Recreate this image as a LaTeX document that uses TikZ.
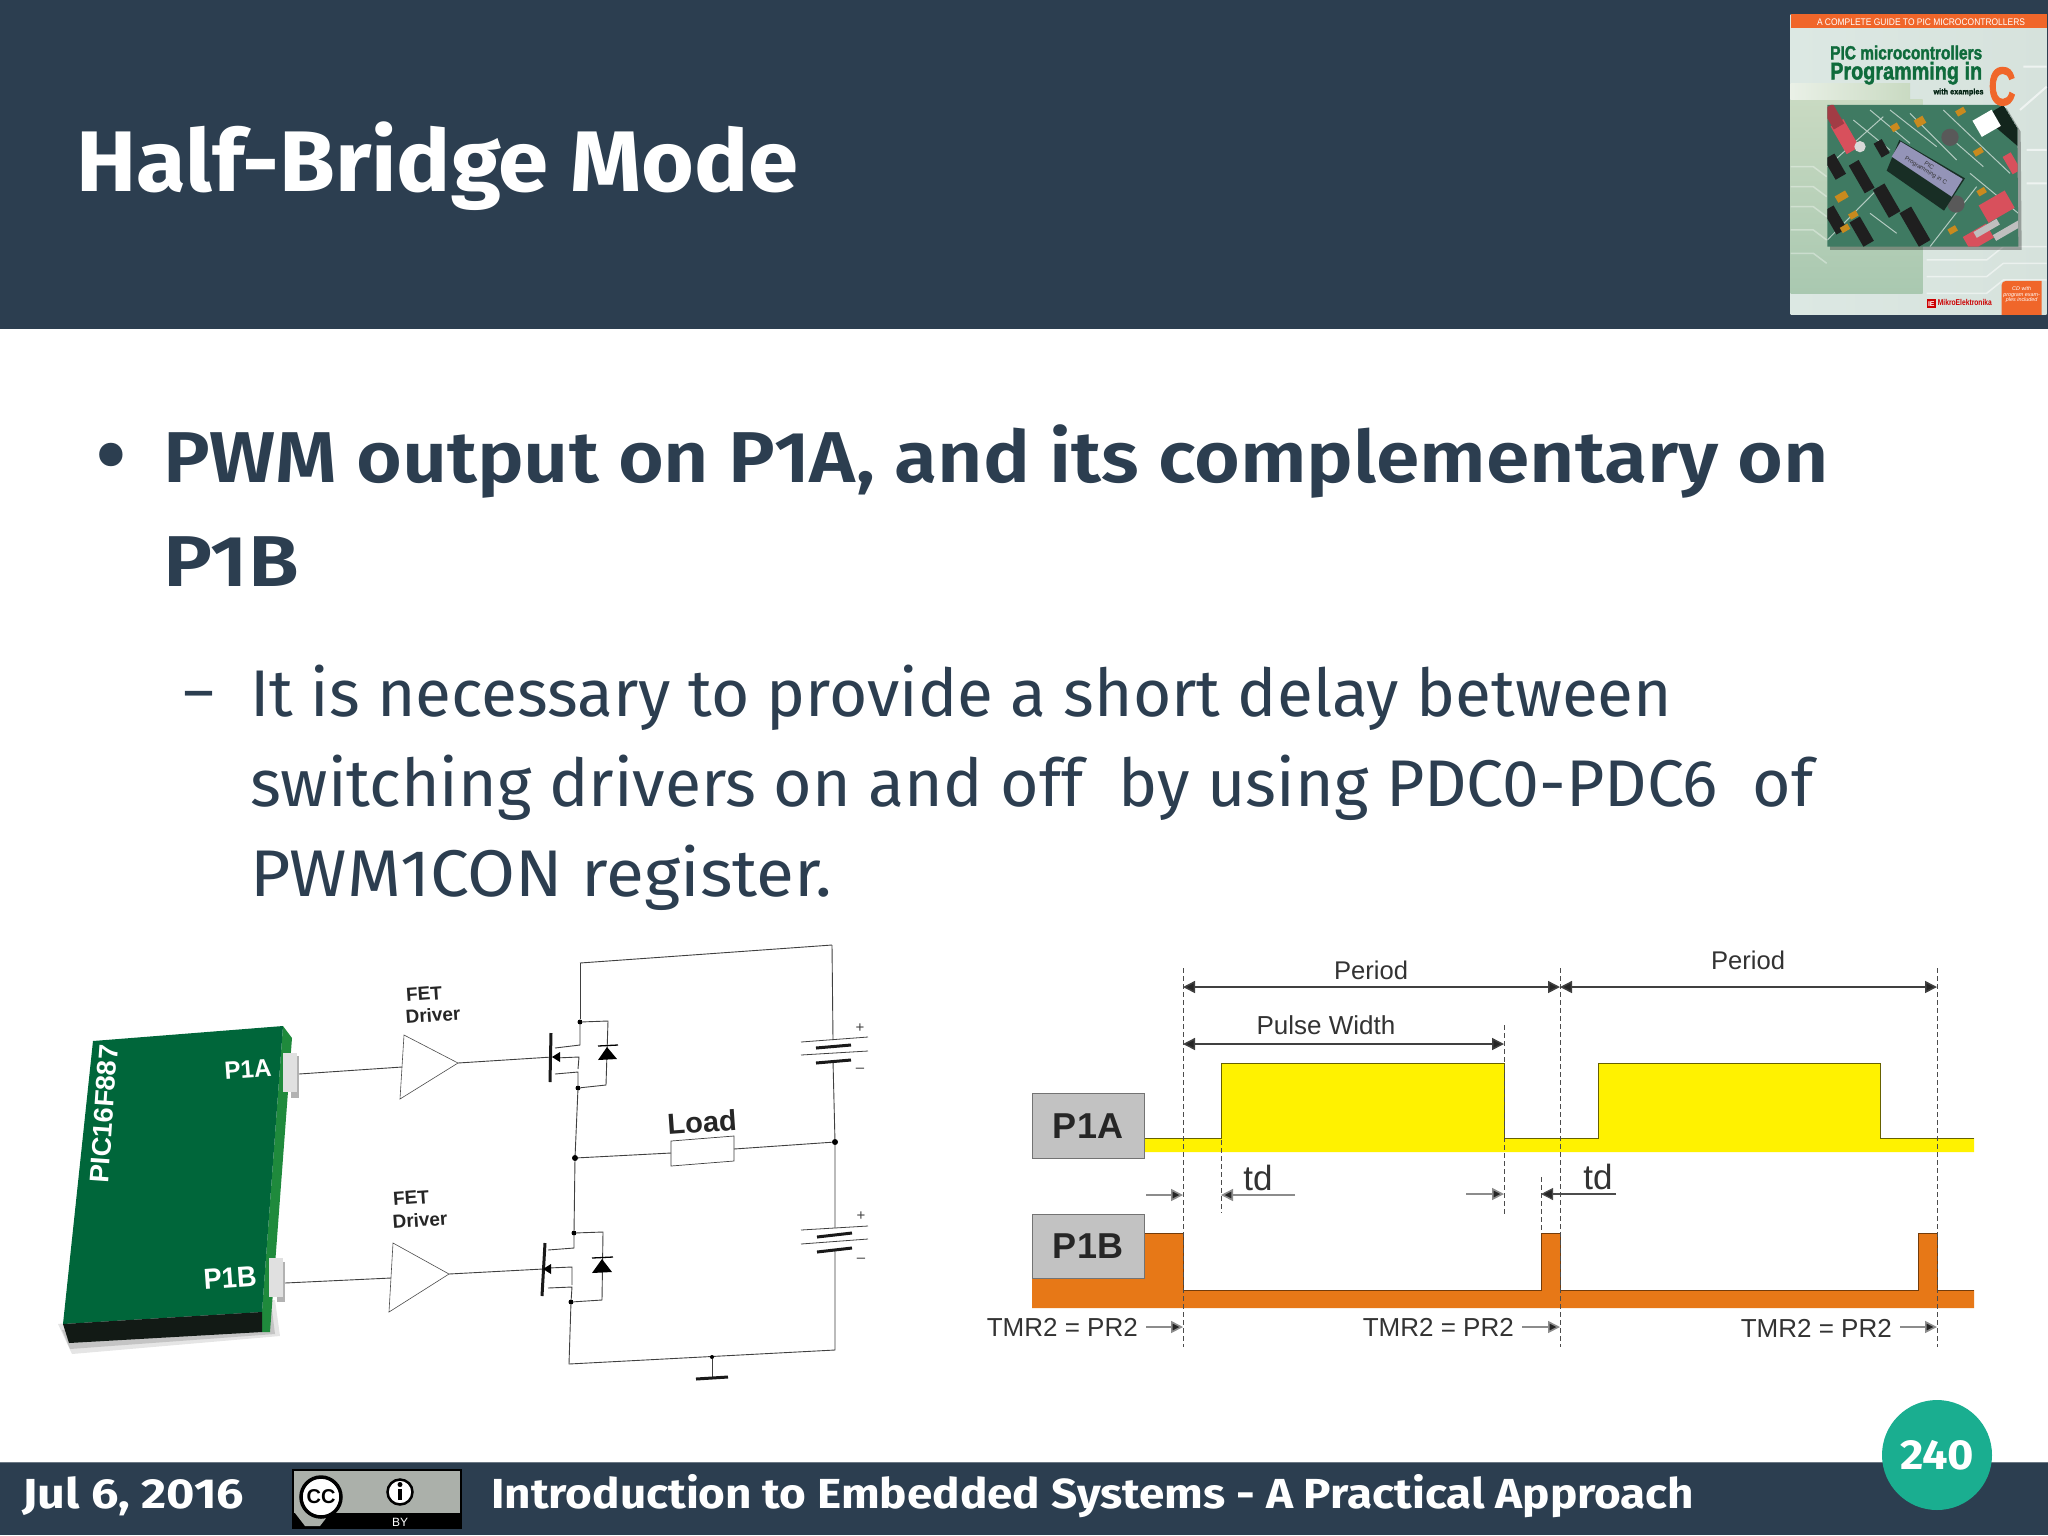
\documentclass[tikz,border=0pt]{standalone}
\usepackage{fontspec}
\usepackage{graphicx}
\usetikzlibrary{arrows.meta}
\setmainfont{Fira Sans}
\newfontfamily\semib{Fira Sans SemiBold}
\newfontfamily\arial{Liberation Sans}
\newfontfamily\heavy[FakeBold=2]{Liberation Sans Bold}
\definecolor{navy}{HTML}{2C3E50}
\definecolor{teal}{HTML}{1AAE90}
\definecolor{chipfront}{HTML}{00663A}
\definecolor{chipside}{HTML}{1F8A3C}
\definecolor{chipdark}{HTML}{121A15}
\definecolor{ylw}{HTML}{FFF200}
\definecolor{org}{HTML}{E77817}
\definecolor{boxgray}{HTML}{C2C2C2}
\definecolor{bookorg}{HTML}{F0662A}
\definecolor{bookgrn}{HTML}{0F6B3C}
\definecolor{pcb}{HTML}{3F7A62}
\definecolor{bkL}{HTML}{DCE8E3}
\definecolor{bkR}{HTML}{D6E2DC}
\definecolor{blkT}{HTML}{C9DAC2}
\definecolor{blkM}{HTML}{7FAE92}
\definecolor{blkB}{HTML}{A9C8B0}
\definecolor{sw}{HTML}{D8505C}
\definecolor{jmp}{HTML}{C98A1E}
\definecolor{ccgray}{HTML}{ABB0AA}
\newcommand{\fitw}[2]{\resizebox{#1pt}{\height}{#2}}
\newcommand{\fz}[1]{\fontsize{#1}{#1}\selectfont}
\newcommand{\pcbrect}[6]{\fill[#6,rotate around={#3:(#1,#2)}] ({#1-#4},{#2-#5}) rectangle ({#1+#4},{#2+#5});}
\tikzset{
  tx/.style={inner sep=0pt,anchor=base west},
  cx/.style={inner sep=0pt,anchor=center},
  ckt/.style={line width=0.9pt,draw=black!75},
  thick plate/.style={line width=3pt,draw=black!90},
  dim/.style={line width=1.5pt,draw=black!75,{Triangle[length=12pt,width=12pt,fill=black!85]}-{Triangle[length=12pt,width=12pt,fill=black!85]}},
  tick/.style={line width=1.6pt,draw=black!45,-{Triangle[length=12pt,width=12pt,fill=black!85]}},
  guide/.style={line width=0.7pt,draw=black!70,dash pattern=on 5pt off 3pt},
  dot/.style={circle,fill=black,inner sep=0pt,minimum size=6pt},
  smalldot/.style={circle,fill=black,inner sep=0pt,minimum size=5pt},
  amp/.style={line width=0.6pt,draw=black!70,fill=white},
  wavelbl/.style={inner sep=0pt,anchor=base east,font=\arial\fz{26},text=black!80},
  plbl/.style={cx,font=\arial\bfseries\fz{36},text=black!85},
  labelbox/.style={draw=black!55,line width=1pt,fill=boxgray}
}
\begin{document}
\begin{tikzpicture}[x=1pt,y=-1pt]
\useasboundingbox (0,0) rectangle (2048,1535);
\fill[white] (0,0) rectangle (2048,1535);
% header
\fill[navy] (0,0) rectangle (2048,329);
\node[tx,text=white,font=\bfseries\fz{86}] (title) at (76,191) {\fitw{722}{Half-Bridge Mode}};
% body
\node[tx,text=navy,font=\fz{104}] (bul) at (94,490) {•};
\node[tx,text=navy,font=\semib\fz{72}] (l1) at (163,482) {\fitw{1666}{PWM output on P1A, and its complementary on}};
\node[tx,text=navy,font=\semib\fz{72}] (l2) at (163,586) {\fitw{136}{P1B}};
\node[tx,text=navy,font=\fz{60}] (dash) at (183,712) {\fitw{31}{–}};
\node[tx,text=navy,font=\fz{66}] (s1) at (250,716) {\fitw{1422}{It is necessary to provide a short delay between}};
\node[tx,text=navy,font=\fz{66}] (s2) at (250,806) {\fitw{1563}{switching drivers on and off\ \ by using PDC0-PDC6\ \ of}};
\node[tx,text=navy,font=\fz{66}] (s3) at (250,896) {\fitw{582}{PWM1CON register.}};

% book cover
\begin{scope}[shift={(1770,0)},x=0.3333pt,y=-0.3333pt]
\fill[left color=bkL,right color=bkR] (62,42) rectangle (830,945);
\fill[top color=blkT,middle color=blkM,bottom color=blkB] (62,300) rectangle (458,880);
\fill[bookorg] (62,42) rectangle (830,85);
\node[cx,text=white,font=\arial\fz{9.6}] (bk0) at (453,67) {\fitw{208}{A COMPLETE GUIDE TO PIC MICROCONTROLLERS}};
\fill[left color=white!60!blkT,right color=blkT] (62,250) rectangle (420,300);
\foreach \yy in {500,560,620,690,760}{\draw[white,opacity=.35,line width=1.5pt] (62,\yy) -- (130,\yy) -- (170,\yy+30);}
\foreach \yy in {780,830,880}{\draw[white,opacity=.5,line width=1.5pt] (470,\yy) -- (650,\yy) -- (700,\yy-40) -- (830,\yy-40);}
\draw[white,opacity=.6,line width=2pt] (760,200) -- (830,200) (750,330) -- (830,260) (770,450)-- (830,450) (770,550)--(830,550);
% photo
\fill[black,opacity=.3] (180,325) -- (710,325) -- (752,395) -- (755,750) -- (180,750) -- cycle;
\fill[pcb] (172,315) -- (700,315) -- (742,385) -- (745,740) -- (172,740) -- cycle;
\begin{scope}
\clip (172,315) -- (700,315) -- (742,385) -- (745,740) -- (172,740) -- cycle;
\fill[black!70!pcb] (700,315) -- (742,385) -- (745,440) -- (640,350) -- cycle;
\draw[white!60!pcb,line width=1pt] (300,330) -- (420,430) (420,340)--(560,480) (520,330)--(720,520) (172,500)--(340,350) (330,560)--(172,720) (600,520)--(745,640) (480,740)--(620,560) (250,360)--(360,450) (360,330)--(500,440) (560,430)--(640,500) (300,640)--(380,700);
\pcbrect{225}{410}{-60}{48}{22}{sw}
\pcbrect{190}{350}{-60}{34}{18}{sw!75!black}
\pcbrect{680}{620}{30}{45}{30}{sw}
\pcbrect{625}{712}{30}{40}{24}{sw}
\pcbrect{725}{490}{-60}{30}{14}{sw}
\pcbrect{275}{530}{-60}{48}{17}{black!88}
\pcbrect{350}{602}{-60}{48}{20}{black!88}
\pcbrect{435}{680}{-60}{58}{20}{black!88}
\pcbrect{275}{695}{-60}{42}{18}{black!88}
\pcbrect{195}{660}{-60}{40}{18}{black!88}
\pcbrect{195}{500}{-60}{35}{18}{black!88}
\pcbrect{335}{445}{-60}{24}{14}{black!88}
\pcbrect{650}{370}{30}{33}{28}{white}
\pcbrect{375}{382}{30}{12}{10}{jmp}
\pcbrect{450}{365}{30}{15}{12}{jmp}
\pcbrect{572}{335}{30}{14}{9}{jmp}
\pcbrect{625}{455}{30}{14}{9}{jmp}
\pcbrect{215}{590}{30}{18}{11}{jmp}
\pcbrect{635}{575}{30}{13}{9}{jmp}
\pcbrect{548}{690}{30}{13}{9}{jmp}
\pcbrect{250}{645}{30}{13}{9}{jmp}
\pcbrect{225}{685}{30}{13}{9}{jmp}
\fill[black!65] (540,412) circle (26);
\fill[black!65] (558,612) circle (26);
\fill[black!15] (270,440) circle (17);
\pcbrect{715}{690}{30}{48}{10}{black!25}
\pcbrect{650}{685}{30}{40}{10}{black!25}
\fill[black!62!pcb] (388,420) -- (585,535) -- (522,632) -- (350,512) -- cycle;
\fill[blue!20!gray!70!white] (392,425) -- (578,537) -- (545,590) -- (365,470) -- cycle;
\node[cx,rotate=-32,font=\arial\fz{6},align=center,text=black!80] (bklcd) at (472,505) {PIC\\Programming in C};
\end{scope}
\node[tx,text=bookgrn,font=\heavy\fz{19}] (bk1) at (180,178) {\fitw{152}{PIC microcontrollers}};
\node[tx,text=bookgrn,font=\heavy\fz{24}] (bk2) at (180,238) {\fitw{152}{Programming in}};
\node[tx,text=black!65!bookgrn,font=\heavy\fz{8}] (bk3) at (490,283) {\fitw{50}{with examples}};
\node[tx,text=bookorg,font=\heavy\fz{54}] (bk4) at (655,315) {\fitw{27}{C}};
\fill[bookorg] (695,855) to[rounded corners=4pt] (695,843) -- (815,843) -- (815,945) -- (695,945) -- cycle;
\node[cx,text=white,font=\arial\itshape\fz{5.4},align=center] (bk5) at (755,885) {CD with\\program exam-\\ples included};
\fill[red!80!black] (470,898) rectangle (498,925);
\node[cx,text=white,font=\arial\bfseries\fz{7}] (bk6) at (484,911) {IE};
\node[tx,text=red!80!black,font=\arial\bfseries\fz{8.5}] (bk7) at (503,918) {\fitw{54}{MikroElektronika}};
\end{scope}

% chip shadow
\fill[black,opacity=.10] (58,1324) -- (275,1300) -- (280,1336) -- (72,1354) -- cycle;
\fill[black,opacity=.14] (62,1330) -- (272,1310) -- (275,1334) -- (70,1349) -- cycle;
% chip
\coordinate (cTL) at (93,1041); \coordinate (cTR) at (283,1026);
\coordinate (cBL) at (63,1324); \coordinate (cBR) at (262,1312);
\fill[chipside] (cTR) -- (292,1038) -- (270,1332) -- (262,1332) -- (cBR) -- cycle;
\fill[chipfront] (cTL) -- (cTR) -- (cBR) -- (cBL) -- cycle;
\fill[chipdark] (cBL) -- (cBR) -- (262,1332) -- (69,1343) -- cycle;
\fill[black!30] (291,1056) rectangle (299,1098);
\fill[black!12] (283,1053) rectangle (297,1092);
\fill[black!30] (277,1262) rectangle (285,1302);
\fill[black!12] (269,1258) rectangle (283,1297);
\node[cx,rotate=86,text=white,font=\arial\bfseries\fz{27}] (chipname) at (104,1114) {\fitw{138}{PIC16F887}};
\node[cx,rotate=4,text=white,font=\arial\bfseries\fz{25}] (p1a) at (248,1069) {\fitw{47}{P1A}};
\node[cx,rotate=4,text=white,font=\arial\bfseries\fz{29}] (p1b) at (230,1278) {\fitw{53}{P1B}};
\coordinate (pinA) at (299,1074);
\coordinate (pinB) at (285,1283);
% drivers
\node[cx,rotate=4,text=black!85,font=\arial\bfseries\fz{19}] (fet1) at (424,994) {FET};
\node[cx,rotate=4,text=black!85,font=\arial\bfseries\fz{19}] (drv1) at (433,1015) {Driver};
\node[cx,rotate=4,text=black!85,font=\arial\bfseries\fz{19}] (fet2) at (411,1198) {FET};
\node[cx,rotate=4,text=black!85,font=\arial\bfseries\fz{19}] (drv2) at (420,1220) {Driver};
\coordinate (a1in) at (402,1067); \coordinate (a1out) at (458,1063);
\coordinate (a2in) at (391,1278); \coordinate (a2out) at (449,1274);
\draw[amp] (404,1035) -- (a1out) -- (400,1099) -- cycle;
\draw[amp] (393,1243) -- (a2out) -- (389,1312) -- cycle;
\draw[ckt] (pinA) -- (a1in);
\draw[ckt] (pinB) -- (a2in);
% top MOSFET
\coordinate (g1) at (552,1057); \coordinate (g2) at (543,1269);
\draw[ckt] (a1out) -- (g1);
\draw[ckt] (a2out) -- (g2);
\draw[line width=3pt,draw=black!90] (551,1033) -- (550,1082);
\coordinate (railTL) at (580,963); \coordinate (railTR) at (832,945);
\node[smalldot] (d1t) at (580,1022) {};
\node[smalldot] (d1b) at (578,1088) {};
\draw[ckt] (railTL) -- (railTR);
\draw[ckt] (railTL) -- (d1t);
\draw[ckt] (d1t) -- (608,1021) -- (606,1085) -- (d1b);
\draw[ckt] (d1t) -- (580,1025) -- (580,1045) -- (555,1048);
\draw[ckt] (555,1058) -- (579,1057) -- (578,1069);
\draw[ckt] (555,1074) -- (578,1072) -- (d1b);
\fill[black] (552,1057) -- (560,1052) -- (560,1062) -- cycle;
\draw[line width=1.3pt] (598,1046) -- (618,1045);
\fill[black] (607,1047) -- (598,1060) -- (617,1059) -- cycle;
% bottom MOSFET
\draw[line width=3pt,draw=black!90] (545,1243) -- (542,1296);
\node[smalldot] (d2t) at (574,1233) {};
\node[smalldot] (d2b) at (571,1302) {};
\draw[ckt] (d2t) -- (603,1232) -- (602,1300) -- (d2b);
\draw[ckt] (d2t) -- (574,1248) -- (548,1250);
\draw[ckt] (548,1268) -- (572,1267) -- (572,1285);
\draw[ckt] (548,1288) -- (572,1287) -- (d2b);
\fill[black] (543,1269) -- (551,1264) -- (551,1274) -- cycle;
\draw[line width=1.3pt] (592,1258) -- (613,1257);
\fill[black] (602,1259) -- (592,1273) -- (612,1272) -- cycle;
% centre line and load
\node[dot] (nodeL) at (575,1158) {};
\node[dot] (nodeR) at (835,1142) {};
\draw[ckt] (d1b) -- (nodeL) -- (d2t);
\draw[ckt,fill=white,line width=0.7pt] (671,1141) -- (734,1136) -- (734,1161) -- (671,1166) -- cycle;
\coordinate (loadW) at (671,1153); \coordinate (loadE) at (734,1149);
\draw[ckt] (nodeL) -- (loadW);
\draw[ckt] (loadE) -- (nodeR);
\node[cx,rotate=4,text=black!85,font=\arial\bfseries\fz{29}] (loadlbl) at (702,1122) {Load};
% right side and batteries
\coordinate (bat1t) at (833,1040); \coordinate (bat1b) at (833,1061);
\coordinate (bat2t) at (835,1228); \coordinate (bat2b) at (835,1250);
\coordinate (railBL) at (569,1364); \coordinate (railBR) at (835,1350);
\draw[ckt] (railTR) -- (bat1t);
\draw[ckt] (bat1b) -- (nodeR) -- (bat2t);
\draw[ckt] (bat2b) -- (railBR) -- (railBL) -- (d2b);
\draw[line width=0.8pt,draw=black!75] (801,1042) -- (868,1037) (801,1055) -- (868,1051);
\draw[thick plate] (816,1048) -- (851,1045) (816,1063) -- (851,1060);
\draw[line width=0.8pt,draw=black!75] (801,1230) -- (868,1226) (801,1244) -- (868,1239);
\draw[thick plate] (817,1237) -- (852,1233) (817,1252) -- (852,1248);
\node[cx,text=black!75,font=\arial\fz{15}] (pl1) at (860,1028) {+};
\node[cx,text=black!75,font=\arial\fz{15}] (mi1) at (860,1070) {–};
\node[cx,text=black!75,font=\arial\fz{15}] (pl2) at (861,1216) {+};
\node[cx,text=black!75,font=\arial\fz{15}] (mi2) at (861,1260) {–};
% ground
\node[smalldot,minimum size=4pt] (gnd) at (712,1357) {};
\coordinate (gndb) at (712,1377);
\draw[ckt] (gnd) -- (gndb);
\draw[line width=3pt,draw=black!90] (696,1379) -- (728,1377);

% timing diagram
\fill[ylw] (1144,1138) -- (1221,1138) -- (1221,1063) -- (1504,1063) -- (1504,1138) -- (1598,1138) -- (1598,1063) -- (1880,1063) -- (1880,1138) -- (1974,1138) -- (1974,1152) -- (1144,1152) -- cycle;
\draw[line width=0.9pt,draw=black!60!ylw] (1144,1138) -- (1221,1138) -- (1221,1063) -- (1504,1063) -- (1504,1138) -- (1598,1138) -- (1598,1063) -- (1880,1063) -- (1880,1138) -- (1974,1138);
\fill[org] (1032,1308) -- (1032,1233) -- (1183,1233) -- (1183,1290) -- (1541,1290) -- (1541,1233) -- (1560,1233) -- (1560,1290) -- (1918,1290) -- (1918,1233) -- (1937,1233) -- (1937,1290) -- (1974,1290) -- (1974,1308) -- cycle;
\draw[line width=0.9pt,draw=black!50!org] (1144,1233) -- (1183,1233) -- (1183,1290) -- (1541,1290) -- (1541,1233) -- (1560,1233) -- (1560,1290) -- (1918,1290) -- (1918,1233) -- (1937,1233) -- (1937,1290) -- (1974,1290);
\node[labelbox,inner sep=0pt,minimum width=112pt,minimum height=65pt,plbl] (boxA) at (1088,1126) {P1A};
\node[labelbox,inner sep=0pt,minimum width=112pt,minimum height=64pt,plbl] (boxB) at (1088,1246) {P1B};
% guides
\coordinate (g1t) at (1183,968); \coordinate (g1b) at (1183,1347);
\coordinate (g2t) at (1560,968); \coordinate (g2b) at (1560,1347);
\coordinate (g3t) at (1937,968); \coordinate (g3b) at (1937,1347);
\draw[guide] (g1t) -- (g1b);
\draw[guide] (g2t) -- (g2b);
\draw[guide] (g3t) -- (g3b);
\draw[guide] (1504,1025) -- (1504,1215);
\draw[guide] (1221,1140) -- (1221,1213);
\draw[guide] (1541,1177) -- (1541,1233);
% dimensions
\coordinate (p1l) at (1183,987); \coordinate (p1r) at (1560,987); \coordinate (p2r) at (1937,987);
\coordinate (pwl) at (1183,1044); \coordinate (pwr) at (1504,1044);
\draw[dim] (p1l) -- (p1r);
\draw[dim] (p1r) -- (p2r);
\draw[dim] (pwl) -- (pwr);
\node[cx,text=black!80,font=\arial\fz{25.6}] (per1) at (1371,970) {Period};
\node[cx,text=black!80,font=\arial\fz{25.6}] (per2) at (1748,960) {Period};
\node[cx,text=black!80,font=\arial\fz{26}] (pw) at (1326,1025) {Pulse Width};
\node[cx,text=black!80,font=\arial\fz{35}] (td1) at (1258,1178) {td};
\node[cx,text=black!80,font=\arial\fz{35}] (td2) at (1598,1177) {td};
\coordinate (t1a) at (1146,1195); \coordinate (t1b) at (1183,1195);
\coordinate (t2a) at (1295,1195); \coordinate (t2b) at (1221,1195);
\coordinate (t3a) at (1466,1194); \coordinate (t3b) at (1504,1194);
\coordinate (t4a) at (1616,1194); \coordinate (t4b) at (1541,1194);
\draw[tick] (t1a) -- (t1b);
\draw[tick] (t2a) -- (t2b);
\draw[tick] (t3a) -- (t3b);
\draw[tick,draw=black!70,line width=1.2pt] (t4a) -- (t4b);
\node[wavelbl] (tm1) at (1138,1336) {TMR2 = PR2};
\node[wavelbl] (tm2) at (1514,1336) {TMR2 = PR2};
\node[wavelbl] (tm3) at (1892,1337) {TMR2 = PR2};
\coordinate (e1) at (1183,1327); \coordinate (e2) at (1560,1327); \coordinate (e3) at (1937,1327);
\draw[tick] (tm1.east |- e1) ++(8,0) -- (e1);
\draw[tick] (tm2.east |- e2) ++(8,0) -- (e2);
\draw[tick] (tm3.east |- e3) ++(8,0) -- (e3);

% footer
\fill[navy] (0,1462) rectangle (2048,1535);
\draw[line width=1pt,draw=navy!70!white] (0,1462) -- (2048,1462);
\node[tx,text=white,font=\bfseries\fz{42}] (date) at (22,1508) {\fitw{222}{Jul 6, 2016}};
\node[tx,text=white,font=\bfseries\fz{42}] (foot) at (491,1508) {\fitw{1203}{Introduction to Embedded Systems - A Practical Approach}};
% cc badge
\fill[black] (292,1469) rectangle (462,1529);
\fill[ccgray] (294,1471) rectangle (460,1513);
\fill[ccgray] (295,1513) -- (330,1513) -- (320,1526) -- (305,1526) -- cycle;
\node[circle,draw=black,line width=3.5pt,fill=white,minimum size=40pt,inner sep=0pt,font=\arial\bfseries\fz{20}] (cc) at (321,1497) {CC};
\node[circle,draw=black,line width=2.5pt,fill=white,minimum size=25pt,inner sep=0pt] (by) at (400,1492) {};
\fill[black] (400,1484.5) circle (2.5);
\draw[line width=3.2pt] (400,1489) -- (400,1500);
\node[cx,text=white,font=\arial\fz{12}] (bytxt) at (400,1522) {BY};
% page number
\node[circle,fill=teal,minimum size=110pt,inner sep=0pt,text=white,font=\bfseries\fz{42}] (page) at (1937,1455) {\fitw{74}{240}};
\end{tikzpicture}
\end{document}
